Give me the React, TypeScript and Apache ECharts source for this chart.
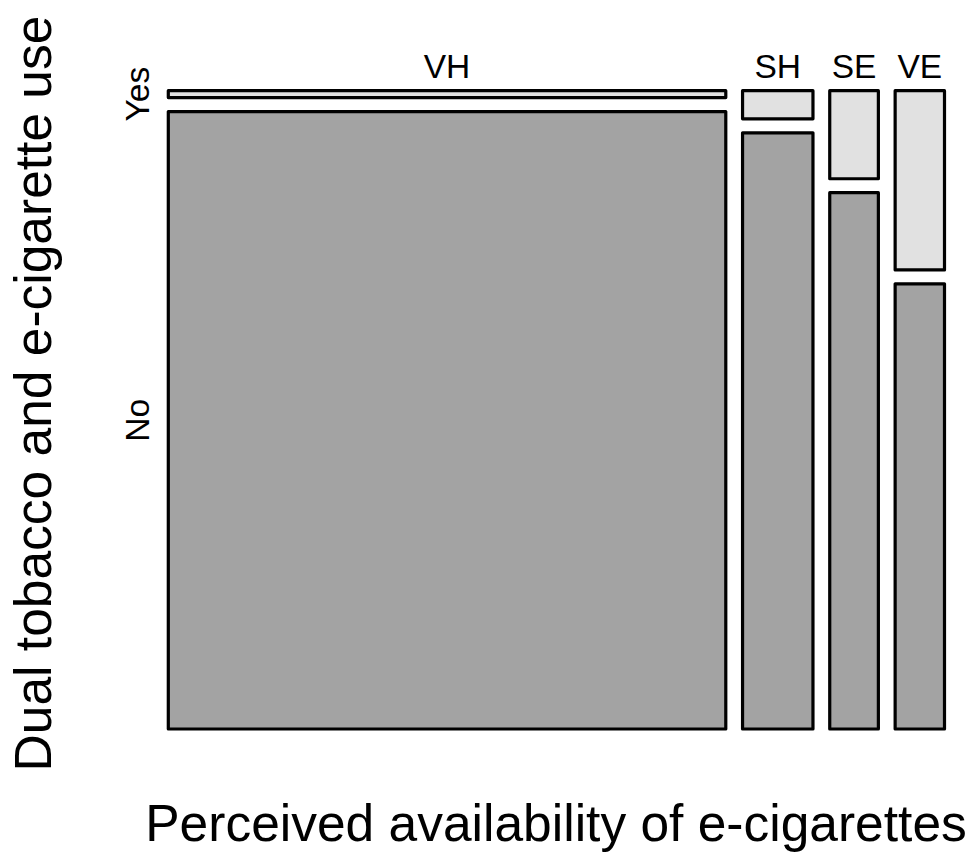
import React, { useEffect, useRef } from "react";
import * as echarts from "echarts";

// ---- data ----
const categories = ["VH", "SH", "SE", "VE"];
// share of each perceived-availability column (widths)
const columnShare = [0.768, 0.097, 0.067, 0.068];
// share of "Yes" (dual use) within each column
const yesShare = [0.011, 0.045, 0.141, 0.287];
const rowLabels = ["Yes", "No"];
const xTitle = "Perceived availability of e-cigarettes";
const yTitle = "Dual tobacco and e-cigarette use";

// ---- layout ----
const GAP_X = 0.0231;
const GAP_Y = 0.0224;
const FONT = "'Liberation Sans', Arial, Helvetica, sans-serif";
const NO_FILL = "#a3a3a3";
const YES_FILL = "#e1e1e1";
const LABEL_SIZE = 33.5;

export default function App() {
  const ref = useRef<HTMLDivElement>(null);

  useEffect(() => {
    if (!ref.current) return;
    const chart = echarts.init(ref.current, null, { renderer: "svg" });
    const total = columnShare.reduce((a, b) => a + b, 0);
    const shares = columnShare.map((s) => s / total);
    const starts: number[] = [];
    let acc = 0;
    shares.forEach((s, i) => {
      starts.push(acc + i * GAP_X);
      acc += s;
    });

    const labelStyle = (text: string) => ({
      text,
      fontSize: LABEL_SIZE,
      fontFamily: FONT,
      fill: "#000",
      align: "center",
      verticalAlign: "middle",
    });

    const renderItem = (params: any, api: any) => {
      const i = api.value(0);
      const x0 = starts[i];
      const x1 = x0 + shares[i];
      const noTop = 1 - yesShare[i];
      const pNoA = api.coord([x0, 0]);
      const pNoB = api.coord([x1, noTop]);
      const pYesA = api.coord([x0, noTop + GAP_Y]);
      const pYesB = api.coord([x1, 1 + GAP_Y]);
      const rectStyle = (fill: string) => ({
        fill,
        stroke: "#000",
        lineWidth: 3.2,
        lineJoin: "round",
      });
      const children: any[] = [
        {
          type: "rect",
          shape: {
            x: pNoA[0],
            y: pNoB[1],
            width: pNoB[0] - pNoA[0],
            height: pNoA[1] - pNoB[1],
          },
          style: rectStyle(NO_FILL),
        },
        {
          type: "rect",
          shape: {
            x: pYesA[0],
            y: pYesB[1],
            width: pYesB[0] - pYesA[0],
            height: pYesA[1] - pYesB[1],
          },
          style: rectStyle(YES_FILL),
        },
        {
          type: "text",
          x: (pNoA[0] + pNoB[0]) / 2,
          y: pYesB[1] - 24.5,
          style: labelStyle(categories[i]),
        },
      ];
      if (i === 0) {
        const labelX = pNoA[0] - 30.5;
        children.push({
          type: "text",
          x: labelX,
          y: (pYesA[1] + pYesB[1]) / 2,
          rotation: Math.PI / 2,
          style: labelStyle(rowLabels[0]),
        });
        children.push({
          type: "text",
          x: labelX,
          y: (pNoA[1] + pNoB[1]) / 2,
          rotation: Math.PI / 2,
          style: labelStyle(rowLabels[1]),
        });
      }
      return { type: "group", children };
    };

    chart.setOption({
      animation: false,
      backgroundColor: "#fff",
      grid: { left: 168.3, right: 31.5, top: 90.7, bottom: 128 },
      xAxis: { type: "value", min: 0, max: 1 + 3 * GAP_X, show: false },
      yAxis: { type: "value", min: 0, max: 1 + GAP_Y, show: false },
      graphic: [
        {
          type: "text",
          x: 556,
          y: 823,
          style: {
            text: xTitle,
            fontSize: 51.5,
            fontFamily: FONT,
            fill: "#000",
            align: "center",
            verticalAlign: "middle",
          },
        },
        {
          type: "text",
          x: 32.5,
          y: 393.5,
          rotation: Math.PI / 2,
          style: {
            text: yTitle,
            fontSize: 51.5,
            fontFamily: FONT,
            fill: "#000",
            align: "center",
            verticalAlign: "middle",
          },
        },
      ],
      series: [
        {
          type: "custom",
          renderItem,
          clip: false,
          data: categories.map((_, i) => [i]),
          silent: true,
        },
      ],
    });
    return () => chart.dispose();
  }, []);

  return (
    <div
      ref={ref}
      style={{ position: "fixed", left: 0, top: 0, width: 976, height: 857 }}
    />
  );
}
